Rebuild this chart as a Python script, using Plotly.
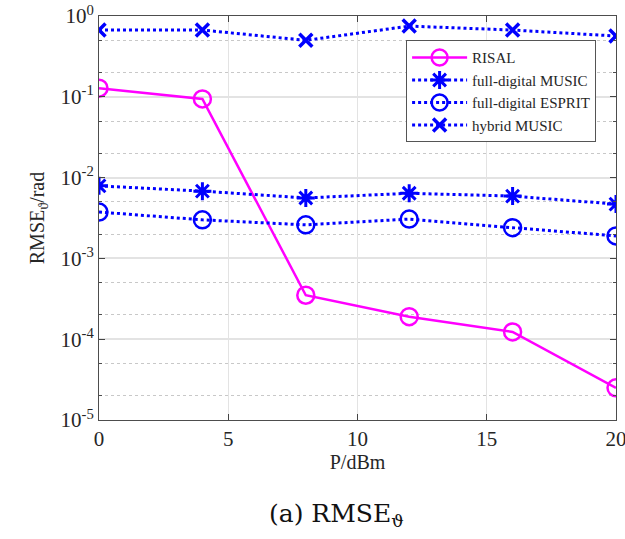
import plotly.graph_objects as go

# Transmit power (dBm)
power_dbm = [0, 4, 8, 12, 16, 20]

# RMSE of the angle estimate (rad)
rmse_risal = [0.128, 0.094, 3.5e-4, 1.9e-4, 1.23e-4, 2.5e-5]
rmse_fd_music = [7.9e-3, 6.8e-3, 5.6e-3, 6.4e-3, 5.9e-3, 4.7e-3]
rmse_fd_esprit = [3.75e-3, 3.0e-3, 2.6e-3, 3.07e-3, 2.4e-3, 1.9e-3]
rmse_hybrid_music = [0.67, 0.67, 0.50, 0.75, 0.67, 0.565]

y_tickvals = [1e-5, 1e-4, 1e-3, 1e-2, 1e-1, 1e0]
y_ticktext = ["10<sup>-5</sup>", "10<sup>-4</sup>", "10<sup>-3</sup>",
              "10<sup>-2</sup>", "10<sup>-1</sup>", "10<sup>0</sup>"]
x_tickvals = [0, 5, 10, 15, 20]

MAGENTA = "#ff00ff"
BLUE = "#0000ff"
SERIF = "Liberation Serif, Times New Roman, serif"

fig = go.Figure()
fig.add_trace(go.Scatter(
    x=power_dbm, y=rmse_risal, name="RISAL", mode="lines+markers",
    line=dict(color=MAGENTA, width=2.5),
    marker=dict(symbol="circle-open", size=17, color=MAGENTA, line=dict(width=2.5)),
))
fig.add_trace(go.Scatter(
    x=power_dbm, y=rmse_fd_music, name="full-digital MUSIC", mode="lines+markers",
    line=dict(color=BLUE, width=3, dash="dot"),
    marker=dict(symbol="asterisk-open", size=15, color=BLUE, line=dict(width=3, color=BLUE)),
))
fig.add_trace(go.Scatter(
    x=power_dbm, y=rmse_fd_esprit, name="full-digital ESPRIT", mode="lines+markers",
    line=dict(color=BLUE, width=3, dash="dot"),
    marker=dict(symbol="circle-open", size=17, color=BLUE, line=dict(width=2.5)),
))
fig.add_trace(go.Scatter(
    x=power_dbm, y=rmse_hybrid_music, name="hybrid MUSIC", mode="lines+markers",
    line=dict(color=BLUE, width=3, dash="dot"),
    marker=dict(symbol="x-thin-open", size=13, color=BLUE, line=dict(width=3.5, color=BLUE)),
))

fig.update_layout(
    width=625, height=539,
    margin=dict(l=99, r=9, t=16, b=119, autoexpand=False),
    paper_bgcolor="white", plot_bgcolor="white",
    font=dict(family=SERIF, color="#262626"),
    showlegend=True,
    legend=dict(
        x=0.594, y=0.94, xanchor="left", yanchor="top",
        bgcolor="white", bordercolor="#555555", borderwidth=1,
        font=dict(family=SERIF, size=15, color="#262626"),
        tracegroupgap=0, itemwidth=55,
    ),
    xaxis=dict(
        range=[0, 20], tickvals=x_tickvals, ticks="inside", ticklen=6,
        showline=True, linecolor="#4d4d4d", linewidth=1, mirror="ticks",
        showgrid=True, gridcolor="#e3e3e3", gridwidth=1, zeroline=False,
        automargin=False, ticklabeloverflow="allow",
        tickfont=dict(family=SERIF, size=21, color="#262626"),
        title=dict(text="P/dBm", font=dict(family=SERIF, size=20, color="#262626"), standoff=4),
    ),
    yaxis=dict(
        type="log", range=[-5, 0], tickvals=y_tickvals, ticktext=y_ticktext,
        ticks="inside", ticklen=6,
        showline=True, linecolor="#4d4d4d", linewidth=1, mirror="ticks",
        showgrid=True, gridcolor="#e3e3e3", gridwidth=1.5, zeroline=False,
        automargin=False, ticklabeloverflow="allow",
        tickfont=dict(family=SERIF, size=21, color="#262626"),
        title=dict(text="RMSE<sub>ϑ</sub>/rad", font=dict(family=SERIF, size=20, color="#262626"), standoff=10),
        minor=dict(ticks="inside", ticklen=3, tickcolor="#4d4d4d",
                   showgrid=True, gridcolor="#c8c8c8", griddash="dot", gridwidth=1),
    ),
    annotations=[dict(
        text="(a) RMSE<sub>ϑ</sub>", xref="paper", yref="paper",
        x=0.46, y=-0.19, xanchor="center", yanchor="top", showarrow=False,
        font=dict(family="DejaVu Serif, Liberation Serif, serif", size=25, color="#111111"),
    )],
)

fig.write_html("out.html")
